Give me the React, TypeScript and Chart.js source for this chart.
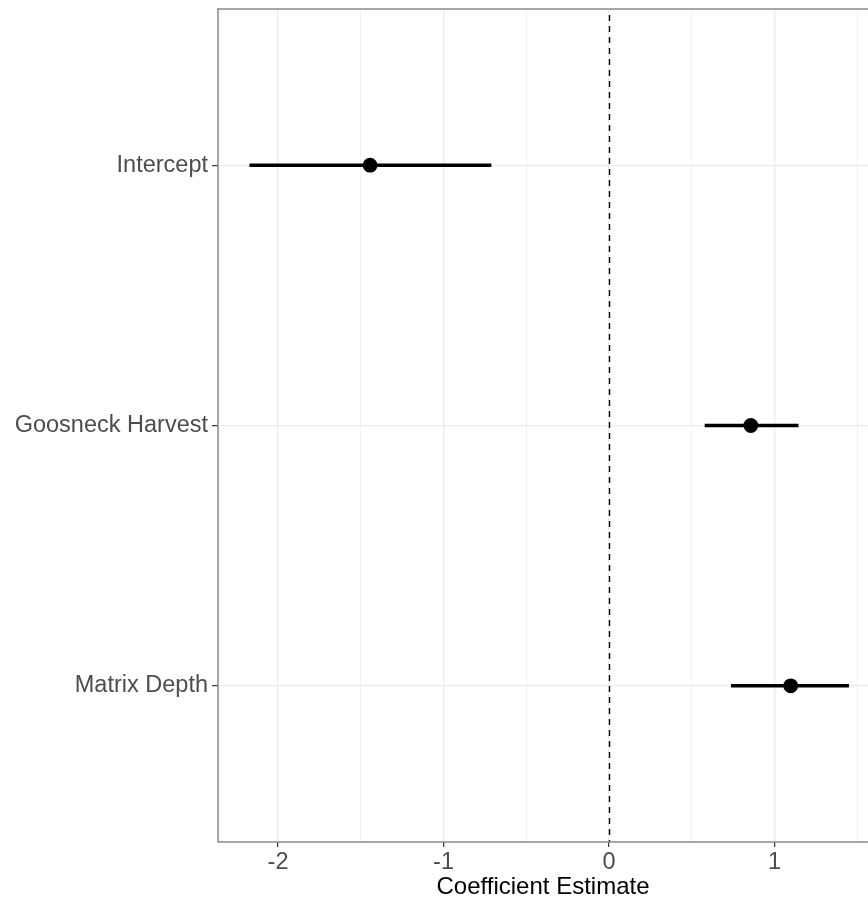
import React, { useEffect, useRef } from "react";
import { Chart, registerables } from "chart.js";

Chart.register(...registerables);

const categories = ["Intercept", "Goosneck Harvest", "Matrix Depth"];
const positions = [3, 2, 1];
const estimates = [-1.444, 0.857, 1.098];
const ciLow = [-2.173, 0.578, 0.737];
const ciHigh = [-0.711, 1.145, 1.45];
const xTicks = [-2, -1.5, -1, -0.5, 0, 0.5, 1, 1.5];

const W = 868;
const H = 899;
const FONT = "'Liberation Sans', Arial, Helvetica, sans-serif";

function zeroPad(scale: any) {
  scale.paddingTop = 0;
  scale.paddingBottom = 0;
  scale.paddingLeft = 0;
  scale.paddingRight = 0;
}

export default function App() {
  const ref = useRef<HTMLCanvasElement | null>(null);

  useEffect(() => {
    document.body.style.margin = "0";
    document.body.style.overflow = "hidden";
    const canvas = ref.current;
    if (!canvas) return;

    const ciSets = categories.map((c, i) => ({
      label: c + " CI",
      data: [
        { x: ciLow[i], y: positions[i] },
        { x: ciHigh[i], y: positions[i] },
      ],
      showLine: true,
      borderColor: "#000000",
      borderWidth: 3.6,
      pointRadius: 0,
      pointHoverRadius: 0,
      borderCapStyle: "butt" as const,
    }));

    const pointSet = {
      label: "Estimate",
      data: estimates.map((e, i) => ({ x: e, y: positions[i] })),
      showLine: false,
      pointRadius: 7.4,
      pointBackgroundColor: "#000000",
      pointBorderWidth: 0,
      borderColor: "#000000",
    };

    const overlay = {
      id: "overlay",
      beforeDatasetsDraw(chart: any) {
        const { ctx, chartArea, scales } = chart;
        const x0 = Math.round(scales.x.getPixelForValue(0)) + 0.5;
        ctx.save();
        ctx.strokeStyle = "#000000";
        ctx.lineWidth = 1.4;
        ctx.setLineDash([6, 5]);
        ctx.beginPath();
        ctx.moveTo(x0, chartArea.top + 6);
        ctx.lineTo(x0, chartArea.bottom);
        ctx.stroke();
        ctx.restore();
      },
      afterDraw(chart: any) {
        const { ctx, chartArea } = chart;
        ctx.save();
        ctx.strokeStyle = "#8a8a8a";
        ctx.lineWidth = 1.5;
        ctx.beginPath();
        ctx.moveTo(W + 2, chartArea.top);
        ctx.lineTo(chartArea.left, chartArea.top);
        ctx.lineTo(chartArea.left, chartArea.bottom);
        ctx.lineTo(W + 2, chartArea.bottom);
        ctx.stroke();
        ctx.restore();
      },
    };

    const chart = new Chart(canvas, {
      type: "scatter",
      data: { datasets: [...ciSets, pointSet] as any },
      options: {
        responsive: false,
        animation: false,
        devicePixelRatio: 1,
        layout: { autoPadding: false, padding: { top: 9, left: 0, right: 0, bottom: 0 } },
        plugins: {
          legend: { display: false },
          tooltip: { enabled: false },
        },
        scales: {
          x: {
            type: "linear",
            min: -2.363,
            max: 1.565,
            afterBuildTicks: (scale: any) => {
              scale.ticks = xTicks.map((v) => ({ value: v }));
            },
            afterFit: (scale: any) => {
              scale.height = H - 842;
              zeroPad(scale);
            },
            ticks: {
              autoSkip: false,
              maxRotation: 0,
              padding: 1,
              color: "#4D4D4D",
              font: { family: FONT, size: 23.5 },
              callback: (v: any) => (Number.isInteger(v) ? String(v) : ""),
            },
            grid: {
              color: "#EBEBEB",
              lineWidth: (ctx: any) =>
                ctx.tick && Number.isInteger(ctx.tick.value) ? 1.3 : 0.7,
              tickColor: (ctx: any) =>
                ctx.tick && Number.isInteger(ctx.tick.value)
                  ? "#333333"
                  : "rgba(0,0,0,0)",
              tickLength: 5,
              tickWidth: 1.2,
            },
            border: { display: false },
            title: {
              display: true,
              text: "Coefficient Estimate",
              color: "#000000",
              font: { family: FONT, size: 24, lineHeight: 1 },
              padding: { top: 0, bottom: 0 },
            },
          },
          y: {
            type: "linear",
            min: 0.4,
            max: 3.6,
            afterBuildTicks: (scale: any) => {
              scale.ticks = positions.map((p) => ({ value: p }));
            },
            afterFit: (scale: any) => {
              scale.width = 218;
              zeroPad(scale);
            },
            ticks: {
              autoSkip: false,
              padding: 4,
              color: "#4D4D4D",
              font: { family: FONT, size: 23.5 },
              callback: (v: any) => {
                const idx = positions.indexOf(v);
                return idx >= 0 ? categories[idx] : "";
              },
            },
            grid: {
              color: "#EBEBEB",
              lineWidth: 1.3,
              tickColor: "#333333",
              tickLength: 6,
              tickWidth: 1.2,
            },
            border: { display: false },
          },
        },
      },
      plugins: [overlay],
    });

    return () => chart.destroy();
  }, []);

  return (
    <canvas
      ref={ref}
      width={W}
      height={H}
      style={{ position: "fixed", left: 0, top: 0, width: W, height: H, display: "block" }}
    />
  );
}
